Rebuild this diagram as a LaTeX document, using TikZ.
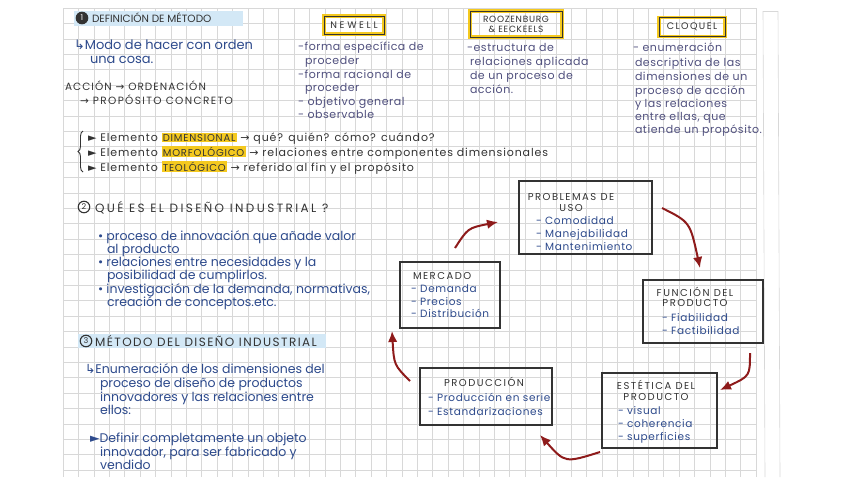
\documentclass[tikz,border=0pt]{standalone}
\usepackage{fontspec}
\setmainfont{Poppins}
\newfontfamily\sym{DejaVu Sans}
\usetikzlibrary{decorations.pathreplacing,arrows.meta}
\definecolor{ink}{HTML}{2D4A8C}
\definecolor{ink2}{HTML}{50507E}
\definecolor{pen}{HTML}{333333}
\definecolor{hly}{HTML}{F4C91F}
\definecolor{hlb}{HTML}{D3E8F6}
\definecolor{gridc}{HTML}{D8D8D8}
\definecolor{arr}{HTML}{8E1B1B}
\newcommand\yhl[1]{{\setlength{\fboxsep}{1.2pt}\colorbox{hly}{#1}}}
\newcommand\ls[1]{\addfontfeature{LetterSpace=#1}}
\tikzset{
  txt/.style={anchor=base west, inner sep=0pt, outer sep=0pt},
  bl/.style={txt, text=ink, font=\fontsize{12.5}{14}\selectfont},
  cl/.style={txt, text=ink2, font=\fontsize{11}{13}\selectfont\ls{5}},
  hd/.style={txt, text=pen, font=\fontsize{12}{14}\selectfont},
  el/.style={txt, text=pen, font=\fontsize{11}{13}\selectfont\ls{8}},
  bh/.style={anchor=base, inner sep=0pt, text=pen, font=\fontsize{10}{11}\selectfont\ls{15}},
  bht/.style={txt, text=pen, font=\fontsize{10}{11}\selectfont\ls{15}},
  bi/.style={txt, text=ink, font=\fontsize{10.5}{12}\selectfont\ls{6}},
  numc/.style={circle, draw=pen, line width=1.1pt, inner sep=0.6pt, minimum size=11.5pt, text=pen, font=\fontsize{8}{8}\selectfont},
  ybox/.style={draw=pen, line width=0.7pt, inner sep=0pt, text=pen, align=center,
     preaction={draw=hly, line width=3.2pt}, font=\fontsize{9.5}{11}\selectfont},
  cbox/.style={draw=pen, line width=1.3pt, inner sep=0pt},
  redarr/.style={draw=arr, line width=2pt, -{Latex[length=11pt,width=9.5pt]}}
}
\begin{document}
\begin{tikzpicture}[x=1pt,y=-1pt]
\useasboundingbox (0,0) rectangle (848,477);
\fill[white] (0,0) rectangle (848,477);
\foreach \i in {0,...,45} \draw[gridc, line width=0.5pt] (63+\i*15.4,8) -- (63+\i*15.4,477);
\foreach \j in {0,...,30} \draw[gridc, line width=0.5pt] (63,8+\j*15.4) -- (756,8+\j*15.4);
\draw[gridc, line width=0.6pt] (763,11) -- (765,477);
\draw[gridc, line width=0.6pt] (778,11) -- (780,477);
\draw[gridc, line width=0.6pt] (763,11) -- (778,11);

% ---------- section 1
\fill[hlb] (74,11) rectangle (243,26);
\node[numc, fill=pen, text=white] (n1) at (82,18) {1};
\node[hd, font=\fontsize{10.5}{12}\selectfont] (h1) at (92,22) {DEFINICIÓN DE MÉTODO};
\node[bl, font=\fontsize{13}{15}\selectfont] (d1) at (74,49) {{\sym ↳}Modo de hacer con orden};
\node[bl, font=\fontsize{13}{15}\selectfont] (d2) at (90,63) {una cosa.};
\node[hd, font=\fontsize{10.5}{12}\selectfont\ls{10}] (a1) at (65,90) {ACCIÓN {\sym →} ORDENACIÓN};
\node[hd, font=\fontsize{10.5}{12}\selectfont\ls{13}] (a2) at (80,104) {{\sym →} PROPÓSITO CONCRETO};

% ---------- authors
\node[ybox, minimum width=60pt, minimum height=18pt, font=\fontsize{9.5}{11}\selectfont\ls{28}] (newell) at (354,25) {NEWELL};
\node[ybox, minimum width=92pt, minimum height=26pt, font=\fontsize{9}{10}\selectfont\ls{8}] (rooz) at (516,24) {ROOZENBURG\\\& EECKEELS};
\node[ybox, minimum width=66pt, minimum height=19pt, font=\fontsize{9.5}{11}\selectfont\ls{15}] (cloq) at (692,27) {CLOQUEL};

\node[cl] (nw1) at (298,50) {-forma específica de};
\node[cl] (nw2) at (305,64) {proceder};
\node[cl] (nw3) at (298,78) {-forma racional de};
\node[cl] (nw4) at (305,91) {proceder};
\node[cl] (nw5) at (298,105) {- objetivo general};
\node[cl] (nw6) at (298,118) {- observable};

\node[cl] (rz1) at (467,51) {-estructura de};
\node[cl] (rz2) at (470,65) {relaciones aplicada};
\node[cl] (rz3) at (470,79) {de un proceso de};
\node[cl] (rz4) at (470,93) {acción.};

\node[cl] (cq1) at (633,51) {- enumeración};
\node[cl] (cq2) at (635,66) {descriptiva de las};
\node[cl] (cq3) at (635,80) {dimensiones de un};
\node[cl] (cq4) at (635,94) {proceso de acción};
\node[cl] (cq5) at (635,107) {y las relaciones};
\node[cl] (cq6) at (635,120) {entre ellas, que};
\node[cl] (cq7) at (635,133) {atiende un propósito.};

% ---------- elements
\draw[pen, line width=0.9pt, decoration={brace, amplitude=5pt}, decorate] (83,172) -- (83,131);
\node[el] (e1) at (88,141) {{\sym ►} Elemento \yhl{\fontsize{10}{12}\selectfont DIMENSIONAL} {\sym →} qué? quién? cómo? cuándo?};
\node[el] (e2) at (88,156) {{\sym ►} Elemento \yhl{\fontsize{10}{12}\selectfont MORFOLÓGICO} {\sym →} relaciones entre componentes dimensionales};
\node[el] (e3) at (88,171) {{\sym ►} Elemento \yhl{\fontsize{10}{12}\selectfont TEOLÓGICO} {\sym →} referido al fin y el propósito};

% ---------- section 2
\node[numc] (n2) at (84,207) {2};
\node[hd, font=\fontsize{12}{14}\selectfont\ls{20}] (h2) at (95,212) {QUÉ ES EL DISEÑO INDUSTRIAL ?};
\node[bl] (s21) at (98,240) {• proceso de innovación que añade valor};
\node[bl] (s22) at (107,253) {al producto};
\node[bl] (s23) at (98,266) {• relaciones entre necesidades y la};
\node[bl] (s24) at (107,279) {posibilidad de cumplirlos.};
\node[bl] (s25) at (98,293) {• investigación de la demanda, normativas,};
\node[bl] (s26) at (107,306) {creación de conceptos.etc.};

% ---------- section 3
\fill[hlb] (78,334) rectangle (326,348);
\node[numc] (n3) at (86,341) {3};
\node[hd, font=\fontsize{12}{14}\selectfont\ls{12}] (h3) at (95,346) {MÉTODO DEL DISEÑO INDUSTRIAL};
\node[bl] (s31) at (85,373) {{\sym ↳}Enumeración de los dimensiones del};
\node[bl] (s32) at (100,387) {proceso de diseño de productos};
\node[bl] (s33) at (100,401) {innovadores y las relaciones entre};
\node[bl] (s34) at (100,414) {ellos:};
\node[bl] (s35) at (90,442) {{\sym ►}Definir completamente un objeto};
\node[bl] (s36) at (100,456) {innovador, para ser fabricado y};
\node[bl] (s37) at (100,469) {vendido};

% ---------- cycle
\node[cbox, minimum width=133pt, minimum height=73pt] (prob) at (585.5,217.5) {};
\node[bh] (pt1) at (571,200) {PROBLEMAS DE};
\node[bh] (pt2) at (571,211) {USO};
\node[bi] (pi1) at (536,224) {- Comodidad};
\node[bi] (pi2) at (536,237) {- Manejabilidad};
\node[bi] (pi3) at (536,250) {- Mantenimiento};

\node[cbox, minimum width=120pt, minimum height=63pt] (func) at (703,311.5) {};
\node[bh] (ft1) at (695,296) {FUNCIÓN DEL};
\node[bh] (ft2) at (695,306) {PRODUCTO};
\node[bi] (fi1) at (662,321) {- Fiabilidad};
\node[bi] (fi2) at (662,334) {- Factibilidad};

\node[cbox, minimum width=115pt, minimum height=75pt] (este) at (659.5,410.5) {};
\node[bh] (et1) at (656,389) {ESTÉTICA DEL};
\node[bh] (et2) at (656,400) {PRODUCTO};
\node[bi] (ei1) at (618,414) {- visual};
\node[bi] (ei2) at (618,427) {- coherencia};
\node[bi] (ei3) at (618,440) {- superficies};

\node[cbox, minimum width=132pt, minimum height=57pt] (prod) at (486,396.5) {};
\node[bh] (rt1) at (484,386) {PRODUCCIÓN};
\node[bi] (ri1) at (428,401) {- Producción en serie};
\node[bi] (ri2) at (428,415) {- Estandarizaciones};

\node[cbox, minimum width=100pt, minimum height=66pt] (merc) at (450,295) {};
\node[bht] (mt1) at (413,279) {MERCADO};
\node[bi] (mi1) at (411,292) {- Demanda};
\node[bi] (mi2) at (411,305) {- Precios};
\node[bi] (mi3) at (411,317) {- Distribución};

\coordinate (t1) at (455,248); \coordinate (e1h) at (498,222);
\coordinate (t2) at (662,208); \coordinate (e2h) at (700,268);
\coordinate (t3) at (750,353); \coordinate (e3h) at (720,390);
\coordinate (t4) at (600,452); \coordinate (e4h) at (540,435);
\coordinate (t5) at (410,381); \coordinate (e5h) at (392,331);
\draw[redarr] (t1) .. controls (468,228) .. (e1h);
\draw[redarr] (t2) .. controls (690,222) .. (e2h);
\draw[redarr] (t3) .. controls (750,376) .. (e3h);
\draw[redarr] (t4) .. controls (565,463) .. (e4h);
\draw[redarr] (t5) .. controls (394,365) .. (e5h);
\end{tikzpicture}
\end{document}
